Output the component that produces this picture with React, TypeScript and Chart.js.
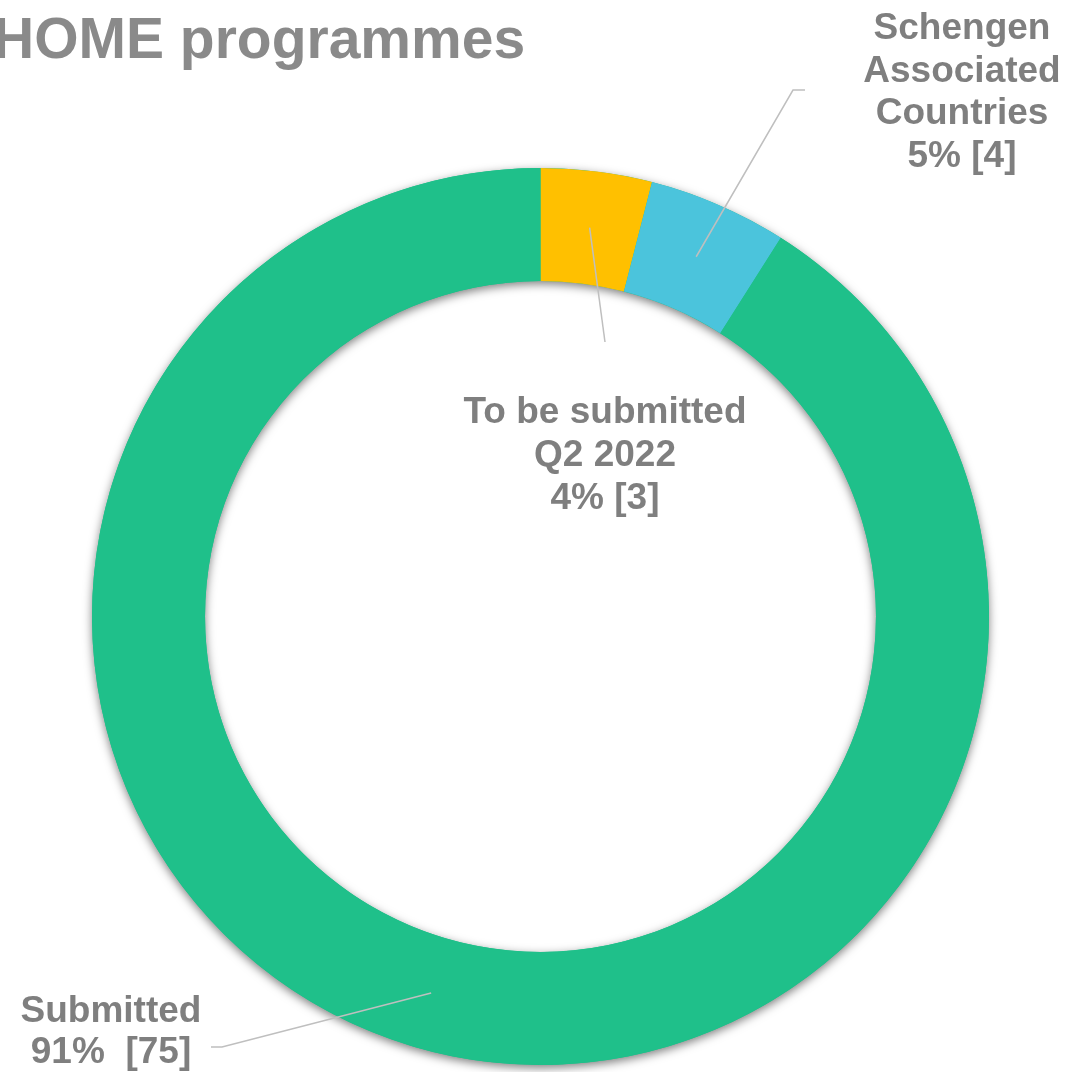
import React, { useEffect, useRef } from "react";
import { Chart, registerables } from "chart.js";

Chart.register(...registerables);

const title = "HOME programmes";
const categories = ["To be submitted Q2 2022", "Schengen Associated Countries", "Submitted"];
// shares (percent) as drawn in the ring
const shares = [4, 5, 91];
const labelTexts = [
  ["To be submitted", "Q2 2022", "4% [3]"],
  ["Schengen", "Associated", "Countries", "5% [4]"],
  ["Submitted", "91%  [75]"],
];
const colors = ["#FFC000", "#4BC4DC", "#1FC08A"];

const TEXT_COLOR = "#7F7F7F";
const LINE_COLOR = "#BFBFBF";
const FONT = "bold 37px 'Liberation Sans', Arial, sans-serif";

const labelLayout = [
  { path: [[605, 342]], textX: 605, firstBaseline: 423, lineH: 43 },
  { path: [[793, 90], [805, 90]], textX: 962, firstBaseline: 39, lineH: 42.7 },
  { path: [[222, 1047], [211, 1047]], textX: 111, firstBaseline: 1022, lineH: 41 },
];

const shadowPlugin = {
  id: "ringShadow",
  beforeDatasetsDraw(chart: any) {
    const meta = chart.getDatasetMeta(0);
    const arc = meta.data[0];
    if (!arc) return;
    const { x, y, outerRadius, innerRadius } = arc.getProps(["x", "y", "outerRadius", "innerRadius"], true);
    const ctx = chart.ctx;
    ctx.save();
    ctx.shadowColor = "rgba(0,0,0,0.5)";
    ctx.shadowBlur = 10;
    ctx.shadowOffsetX = 0;
    ctx.shadowOffsetY = 3;
    ctx.fillStyle = colors[2];
    ctx.beginPath();
    ctx.arc(x, y, outerRadius, 0, Math.PI * 2);
    ctx.arc(x, y, innerRadius, 0, Math.PI * 2, true);
    ctx.closePath();
    ctx.fill();
    ctx.restore();
  },
};

const labelPlugin = {
  id: "leaderLabels",
  afterDatasetsDraw(chart: any) {
    const ctx = chart.ctx;
    const meta = chart.getDatasetMeta(0);
    ctx.save();
    ctx.font = "bold 57px 'Liberation Sans', Arial, sans-serif";
    ctx.fillStyle = "#8A8A8A";
    ctx.textAlign = "left";
    ctx.textBaseline = "alphabetic";
    ctx.fillText(title, -7, 58);

    meta.data.forEach((arc: any, i: number) => {
      const pos = arc.tooltipPosition();
      const lay = labelLayout[i];
      ctx.strokeStyle = LINE_COLOR;
      ctx.lineWidth = 1.5;
      ctx.beginPath();
      ctx.moveTo(pos.x, pos.y);
      lay.path.forEach((p) => ctx.lineTo(p[0], p[1]));
      ctx.stroke();

      ctx.font = FONT;
      ctx.fillStyle = TEXT_COLOR;
      ctx.textAlign = "center";
      labelTexts[i].forEach((t, j) => {
        ctx.fillText(t, lay.textX, lay.firstBaseline + j * lay.lineH);
      });
    });
    ctx.restore();
  },
};

export default function App() {
  const ref = useRef<HTMLCanvasElement>(null);
  useEffect(() => {
    document.body.style.margin = "0";
    const canvas = ref.current!;
    const chart = new Chart(canvas, {
      type: "doughnut",
      data: {
        labels: categories,
        datasets: [
          {
            data: shares,
            backgroundColor: colors,
            borderWidth: 0,
          },
        ],
      },
      options: {
        responsive: false,
        animation: false,
        cutout: "74.8%",
        layout: { padding: { left: 92, top: 168, right: 77, bottom: 7 } },
        plugins: {
          legend: { display: false },
          tooltip: { enabled: false },
        },
      },
      plugins: [shadowPlugin, labelPlugin],
    });
    return () => chart.destroy();
  }, []);
  return (
    <div style={{ width: 1066, height: 1072, background: "#fff" }}>
      <canvas ref={ref} width={1066} height={1072} style={{ display: "block" }} />
    </div>
  );
}
